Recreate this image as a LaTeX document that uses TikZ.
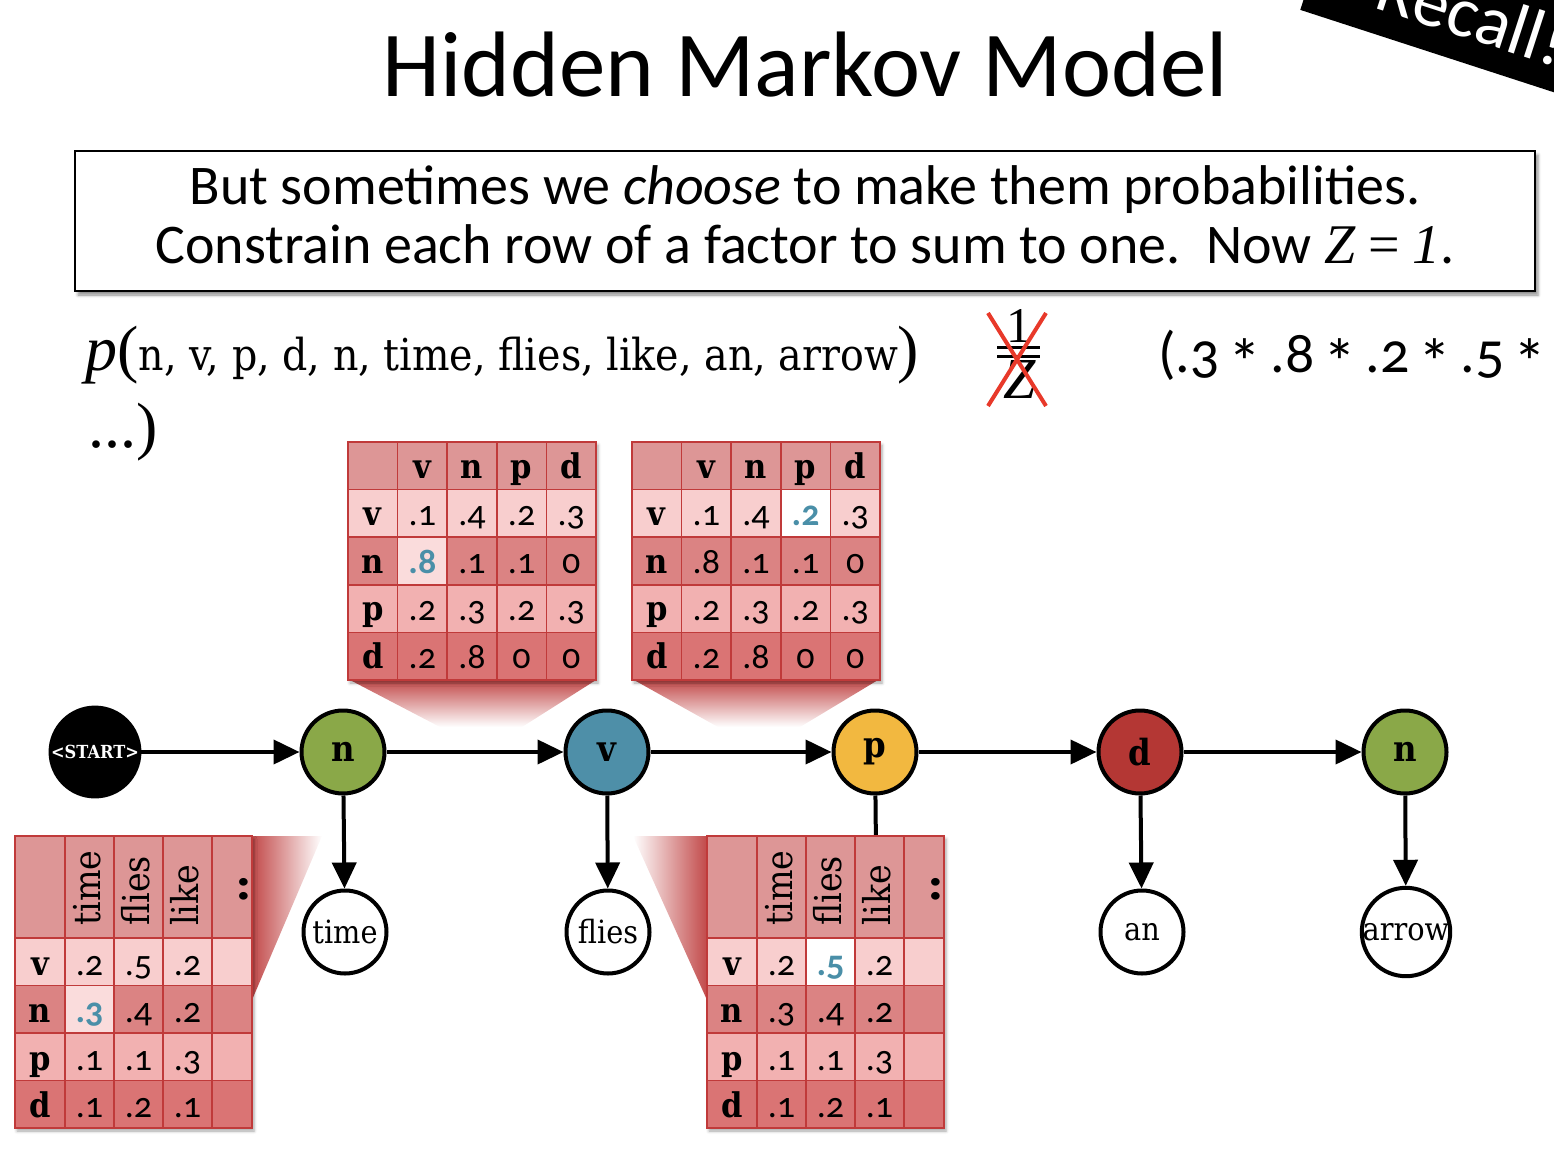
\documentclass[tikz,border=0pt]{standalone}
\usepackage{fontspec}
\usetikzlibrary{arrows.meta,shadows,shadows.blur}
\setmainfont{Carlito}
\newfontfamily\gill[Numbers=OldStyle]{Carlito}
\newfontfamily\slab[FakeStretch=0.9]{DejaVu Serif}
\newfontfamily\tms{Liberation Serif}
\definecolor{hdrc}{HTML}{DD9696}
\definecolor{rowvc}{HTML}{F8CECE}
\definecolor{rownc}{HTML}{DB8383}
\definecolor{rowpc}{HTML}{F2B1B1}
\definecolor{rowdc}{HTML}{DA7474}
\definecolor{gridc}{HTML}{C03A3A}
\definecolor{hlpink}{HTML}{FADCDC}
\definecolor{tealtx}{HTML}{4A8FA8}
\definecolor{wedgec}{HTML}{C24A4A}
\definecolor{greenc}{HTML}{8AA848}
\definecolor{tealn}{HTML}{4E8FA8}
\definecolor{yellowc}{HTML}{F2B840}
\definecolor{redc}{HTML}{B43734}
\definecolor{redx}{HTML}{E8392A}
\newcommand\hl[1]{\textcolor{tealtx}{\bfseries #1}}
\newcommand\starsym{{\fontsize{66}{66}\selectfont\raisebox{-13pt}{*}}}
\tikzset{
  gridline/.style={draw=gridc, line width=1.5pt},
  lab/.style={anchor=base, inner sep=0pt, font=\slab\bfseries\fontsize{34}{34}\selectfont},
  num/.style={anchor=base, inner sep=0pt, font=\gill\fontsize{36}{36}\selectfont},
  wordrot/.style={anchor=base west, rotate=90, inner sep=0pt, font=\slab\fontsize{37}{37}\selectfont},
  tabshadow/.style={blur shadow={shadow xshift=2pt, shadow yshift=-3pt, shadow blur radius=3pt, shadow opacity=35}},
  hid/.style={circle, draw=black, line width=4pt, minimum size=83pt, inner sep=0pt, font=\slab\bfseries\fontsize{36}{36}\selectfont},
  obs/.style={circle, draw=black, fill=white, line width=4pt, minimum size=83pt, inner sep=0pt, font=\slab\fontsize{32}{32}\selectfont},
  edge/.style={line width=4pt, -{Triangle[length=26pt,width=24pt]}},
}
% transition table: #1 name, #2 x, #3 y, #4 hl col, #5 hl row, #6 hl colour, #7 rows
\newcommand\transtab[7]{%
\begin{scope}[shift={(#2,#3)}]
\fill[hdrc, tabshadow] (0,0) rectangle (248,238);
\fill[rowvc] (0,47.6) rectangle (248,95.2);
\fill[rownc] (0,95.2) rectangle (248,142.8);
\fill[rowpc] (0,142.8) rectangle (248,190.4);
\fill[rowdc] (0,190.4) rectangle (248,238);
\fill[#6] ({#4*49.6},{#5*47.6}) rectangle ++(49.6,47.6);
\foreach \ii in {1,...,4}{
  \draw[gridline] ({\ii*49.6},0) -- ({\ii*49.6},238);
  \draw[gridline] (0,{\ii*47.6}) -- (248,{\ii*47.6});}
\draw[gridline] (0,0) rectangle (248,238);
\foreach \cx/\hx in {1/v,2/n,3/p,4/d}
  \node[lab] (#1-0-\cx) at ({(\cx+0.5)*49.6},36) {\hx};
\foreach \rr/\rlab/\ra/\rb/\rc/\rd in {#7}{
  \node[lab] (#1-\rr-0) at (24.8,{\rr*47.6+36}) {\rlab};
  \node[num] (#1-\rr-1) at (74.4,{\rr*47.6+36}) {\ra};
  \node[num] (#1-\rr-2) at (124,{\rr*47.6+36}) {\rb};
  \node[num] (#1-\rr-3) at (173.6,{\rr*47.6+36}) {\rc};
  \node[num] (#1-\rr-4) at (223.2,{\rr*47.6+36}) {\rd};}
\end{scope}}
% emission table: #1 name, #2 x, #3 y, #4 hl col, #5 hl row, #6 hl colour, #7 rows
\newcommand\emistab[7]{%
\begin{scope}[shift={(#2,#3)}]
\fill[hdrc, tabshadow] (0,0) rectangle (237,292);
\fill[rowvc] (0,102) rectangle (237,149.5);
\fill[rownc] (0,149.5) rectangle (237,197);
\fill[rowpc] (0,197) rectangle (237,244.5);
\fill[rowdc] (0,244.5) rectangle (237,292);
\fill[#6] ({50+(#4-1)*49},{102+(#5-1)*47.5}) rectangle ++(49,47.5);
\foreach \xx in {50,99,148,197} \draw[gridline] (\xx,0) -- (\xx,292);
\foreach \yy in {102,149.5,197,244.5} \draw[gridline] (0,\yy) -- (237,\yy);
\draw[gridline] (0,0) rectangle (237,292);
\node[wordrot] (#1-0-1) at (85.5,90) {time};
\node[wordrot] (#1-0-2) at (134.5,90) {flies};
\node[wordrot] (#1-0-3) at (183.5,90) {like};
\node[wordrot, font=\slab\bfseries\fontsize{46}{46}\selectfont] (#1-0-4) at (232,68) {..};
\foreach \rr/\rlab/\ra/\rb/\rc in {#7}{
  \node[lab] (#1-\rr-0) at (25,{102+(\rr-1)*47.5+37}) {\rlab};
  \node[num] (#1-\rr-1) at (74.5,{102+(\rr-1)*47.5+37}) {\ra};
  \node[num] (#1-\rr-2) at (123.5,{102+(\rr-1)*47.5+37}) {\rb};
  \node[num] (#1-\rr-3) at (172.5,{102+(\rr-1)*47.5+37}) {\rc};}
\end{scope}}
\begin{document}
\begin{tikzpicture}[x=1pt,y=-1pt]
\useasboundingbox (0,0) rectangle (1554,1150);
% Recall banner
\node[fill=black, text=white, rotate=-18, anchor=south west, inner xsep=68pt, inner ysep=24pt,
      font=\fontsize{72}{72}\selectfont] (recall) at (1300,10) {Recall!};
% title
\node[anchor=base, inner sep=0pt, font=\fontsize{93}{93}\selectfont] (title) at (805,97) {Hidden Markov Model};
% box
\node[draw=black, line width=2pt, fill=white, minimum width=1460pt, minimum height=140pt,
      blur shadow={shadow xshift=3pt, shadow yshift=-4pt, shadow blur radius=3pt, shadow opacity=45}] (box) at (805,221) {};
\node[anchor=base, inner sep=0pt, font=\fontsize{56}{56}\selectfont] (line1) at (805,205)
  {But sometimes we \textit{choose} to make them probabilities.};
\node[anchor=base, inner sep=0pt, font=\fontsize{56}{56}\selectfont] (line2) at (805,263)
  {Constrain each row of a factor to sum to one.\ \ Now {\tms\itshape Z} {\tms =} {\tms\itshape 1}.};
% p(...) expression
\node[anchor=base west, inner sep=0pt] (pexpr) at (85,370)
  {\tms\fontsize{64}{64}\selectfont\itshape p\upshape(\slab\fontsize{44}{44}\selectfont n, v, p, d, n, time, flies, like, an, arrow\tms\fontsize{64}{64}\selectfont)};
\node[anchor=base west, inner sep=0pt] (pcont) at (88,447) {\tms\fontsize{64}{64}\selectfont ...)};
% crossed 1/Z
\node[anchor=base, inner sep=0pt, font=\tms\fontsize{50}{50}\selectfont] (one) at (1019,342) {1};
\draw[line width=3pt] (997,347) -- (1040,347);
\draw[line width=3pt] (997,356) -- (1040,356);
\node[anchor=base, inner sep=0pt, font=\tms\itshape\fontsize{58}{58}\selectfont] (zed) at (1020,398) {Z};
\draw[redx, line width=4pt] (988,313) -- (1046,406);
\draw[redx, line width=4pt] (1046,313) -- (988,406);
% product
\node[anchor=base west, inner sep=0pt, font=\gill\fontsize{58}{58}\selectfont] (prod) at (1158,372)
  {\spaceskip=9pt (.3 \starsym{} .8 \starsym{} .2 \starsym{} .5 \starsym};
% wedges
\shade[top color=wedgec, bottom color=white] (350,680) -- (596,680) -- (522,727) -- (440,727) -- cycle;
\shade[top color=wedgec, bottom color=white] (634,680) -- (878,680) -- (800,727) -- (718,727) -- cycle;
\shade[left color=wedgec, right color=white] (252,836) -- (322,836) -- (252,1000) -- cycle;
\shade[left color=white, right color=wedgec] (633,836) -- (707,836) -- (707,1000) -- cycle;
% HMM nodes
\node[hid, fill=black, text=white, minimum size=88pt, font=\slab\bfseries\fontsize{18}{18}\selectfont] (start) at (95,752) {<START>};
\node[hid, fill=greenc] (n1) at (343,752) {n};
\node[hid, fill=tealn] (v) at (607,752) {v};
\node[hid, fill=yellowc] (p) at (875,752) {p};
\node[hid, fill=redc] (d) at (1140,752) {d};
\node[hid, fill=greenc] (n2) at (1405,752) {n};
\node[obs] (time) at (345,932) {time};
\node[obs] (flies) at (608,932) {flies};
\node[obs] (an) at (1142,932) {an};
\node[obs] (arrow) at (1406,932) {arrow};
\coordinate (pdown) at (876,850);
\draw[edge] (start) -- (n1);
\draw[edge] (n1) -- (v);
\draw[edge] (v) -- (p);
\draw[edge] (p) -- (d);
\draw[edge] (d) -- (n2);
\draw[edge] (n1) -- (time);
\draw[edge] (v) -- (flies);
\draw[edge] (d) -- (an);
\draw[edge] (n2) -- (arrow);
\draw[line width=4pt] (p) -- (pdown);
% tables
\transtab{ta}{348}{442}{1}{2}{hlpink}{1/v/.1/.4/.2/.3, 2/n/\hl{.8}/.1/.1/0, 3/p/.2/.3/.2/.3, 4/d/.2/.8/0/0}
\transtab{tb}{632}{442}{3}{1}{white}{1/v/.1/.4/\hl{.2}/.3, 2/n/.8/.1/.1/0, 3/p/.2/.3/.2/.3, 4/d/.2/.8/0/0}
\emistab{ec}{15}{836}{1}{2}{hlpink}{1/v/.2/.5/.2, 2/n/\hl{.3}/.4/.2, 3/p/.1/.1/.3, 4/d/.1/.2/.1}
\emistab{ed}{707}{836}{2}{1}{white}{1/v/.2/\hl{.5}/.2, 2/n/.3/.4/.2, 3/p/.1/.1/.3, 4/d/.1/.2/.1}
\end{tikzpicture}
\end{document}
